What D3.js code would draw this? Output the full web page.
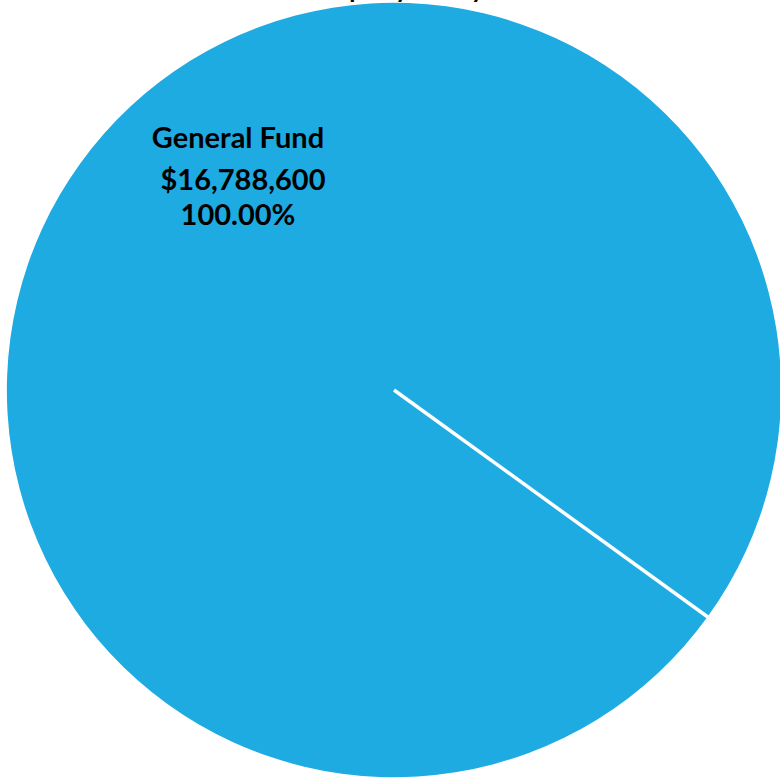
<!DOCTYPE html>
<html>
<head>
<meta charset="utf-8">
<script src="https://cdn.jsdelivr.net/npm/d3@7"></script>
<style>
  html, body { margin: 0; padding: 0; background: #fff; }
  svg { display: block; }
</style>
</head>
<body>
<div id="chart"></div>
<script>
const funds = ["General Fund"];
const amounts = [16788600];
const titleText = "Property Tax by Fund";

const width = 780, height = 780;
const cx = 394, cy = 390, radius = 387;
const color = "#1eabe2";

const svg = d3.select("#chart").append("svg")
    .attr("width", width).attr("height", height);

// title sits mostly above the visible area, only descenders show
svg.append("text")
    .attr("x", 428).attr("y", -2)
    .attr("text-anchor", "middle")
    .style("font-family", "Lato, 'Open Sans', sans-serif")
    .style("font-weight", "bold")
    .style("font-size", "25px")
    .text(titleText);

const data = funds.map((f, i) => ({ fund: f, value: amounts[i] }));
const total = d3.sum(amounts);

const startAngle = 2.197; // slice begins at ~126deg
const pie = d3.pie().value(d => d.value).sort(null)
    .startAngle(startAngle).endAngle(startAngle + 2 * Math.PI);
const arcs = pie(data);
const arc = d3.arc().innerRadius(0).outerRadius(radius);

const g = svg.append("g").attr("transform", `translate(${cx},${cy})`);

g.selectAll("path.slice").data(arcs).enter().append("path")
    .attr("class", "slice")
    .attr("d", arc)
    .attr("fill", color);

// slice border along the start edge
g.selectAll("line.edge").data(arcs).enter().append("line")
    .attr("class", "edge")
    .attr("x1", 0).attr("y1", 0)
    .attr("x2", d => (radius + 2) * Math.sin(d.startAngle))
    .attr("y2", d => -(radius + 2) * Math.cos(d.startAngle))
    .attr("stroke", "#fff")
    .attr("stroke-width", 3.5);

const fmt = d3.format("$,.0f");
const pct = v => (v / total * 100).toFixed(2) + "%";

const label = svg.append("text")
    .style("font-family", "Lato, 'Open Sans', sans-serif")
    .style("font-weight", "bold")
    .style("font-size", "29px")
    .attr("fill", "#000")
    .attr("text-anchor", "middle");

data.forEach(d => {
    label.append("tspan").attr("x", 238).attr("y", 148).text(d.fund);
    label.append("tspan").attr("x", 243).attr("y", 190).text(fmt(d.value));
    label.append("tspan").attr("x", 238).attr("y", 225).text(pct(d.value));
});
</script>
</body>
</html>
